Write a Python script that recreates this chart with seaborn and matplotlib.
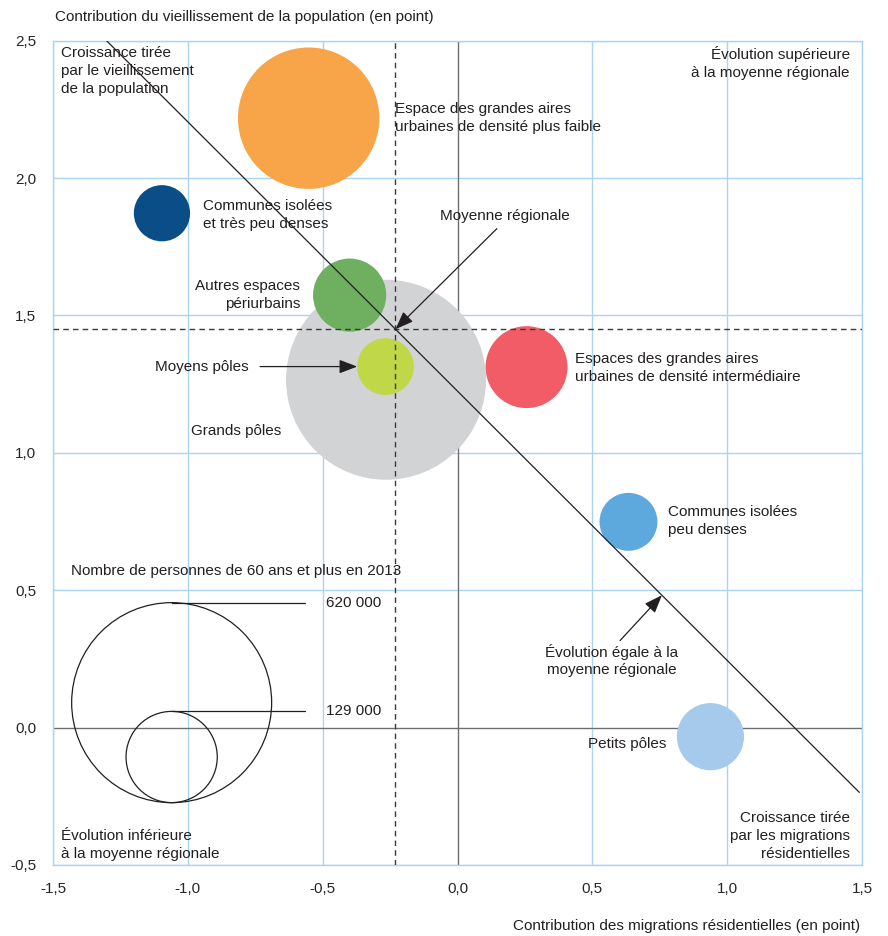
import numpy as np
import pandas as pd
import matplotlib
matplotlib.use("Agg")
import matplotlib.pyplot as plt
import seaborn as sns

# données
categories = [
    "Grands pôles",
    "Espace des grandes aires urbaines de densité plus faible",
    "Espaces des grandes aires urbaines de densité intermédiaire",
    "Autres espaces périurbains",
    "Petits pôles",
    "Communes isolées peu denses",
    "Moyens pôles",
    "Communes isolées et très peu denses",
]
migrations = [-0.265, -0.552, 0.256, -0.400, 0.938, 0.634, -0.267, -1.096]
vieillissement = [1.266, 2.218, 1.312, 1.574, -0.033, 0.749, 1.314, 1.872]
population = [620000, 310000, 104000, 83000, 70000, 52000, 50000, 49000]
couleurs = ["#D2D3D5", "#F8A54A", "#F25C66", "#6EAF60",
            "#A6CAEC", "#5DA9DD", "#C0D748", "#0A4D87"]

moyenne_x = -0.23
moyenne_y = 1.45
legende_pop = [620000, 129000]

x_ticks = [-1.5, -1.0, -0.5, 0.0, 0.5, 1.0, 1.5]
y_ticks = [-0.5, 0.0, 0.5, 1.0, 1.5, 2.0, 2.5]

sns.set_style("white")
plt.rcParams["font.family"] = ["Liberation Sans Narrow", "Liberation Sans", "DejaVu Sans"]
plt.rcParams["text.color"] = "#231F20"

GRID = "#A9D5F0"
FS = 11
LS = 1.35
POP_MAX = 620000
S_MAX = 144.0 ** 2  # diamètre 144 pt pour 620 000

df = pd.DataFrame({"categorie": categories, "x": migrations,
                   "y": vieillissement, "pop": population})

fig = plt.figure(figsize=(8.88, 9.36), dpi=100)
ax = fig.add_axes([53 / 888, 1 - 865 / 936, 809 / 888, 824.3 / 936])

ax.set_xlim(-1.5, 1.5)
ax.set_ylim(-0.5, 2.5)
ax.set_xticks(x_ticks)
ax.set_yticks(y_ticks)
ax.set_xticklabels([f"{v:.1f}".replace(".", ",") for v in x_ticks], fontsize=FS)
ax.set_yticklabels([f"{v:.1f}".replace(".", ",") for v in y_ticks], fontsize=FS)
ax.tick_params(length=0)
ax.tick_params(axis="x", pad=12)
ax.tick_params(axis="y", pad=12)
ax.grid(True, color=GRID, lw=1)
ax.set_axisbelow(True)
for sp in ax.spines.values():
    sp.set_color(GRID)
    sp.set_linewidth(1)

ax.axhline(0, color="#6D6E70", lw=0.9, zorder=1)
ax.axvline(0, color="#6D6E70", lw=0.9, zorder=1)

sns.scatterplot(data=df, x="x", y="y", hue="categorie", size="pop",
                palette=dict(zip(categories, couleurs)),
                sizes=(0, S_MAX), size_norm=(0, POP_MAX),
                linewidth=0, alpha=1, legend=False, ax=ax, zorder=2)
ax.set_xlabel("")
ax.set_ylabel("")

# moyenne régionale
ax.axvline(moyenne_x, color="#3A3A3A", lw=1, ls=(0, (4, 3)), zorder=3)
ax.axhline(moyenne_y, color="#3A3A3A", lw=1, ls=(0, (4, 3)), zorder=3)
pente = -0.98
x_diag = np.array([moyenne_x + (2.5 - moyenne_y) / pente, 1.49])
ax.plot(x_diag, moyenne_y + pente * (x_diag - moyenne_x), color="#231F20", lw=0.9, zorder=3)

arrow = dict(arrowstyle="-|>,head_length=1.1,head_width=0.42", color="#231F20",
             lw=0.9, shrinkA=0, shrinkB=0)
x_eg = 0.758
ax.annotate("", xy=(moyenne_x, moyenne_y), xytext=(0.146, 1.816), arrowprops=arrow, zorder=4)
ax.annotate("", xy=(-0.372, 1.314), xytext=(-0.732, 1.314), arrowprops=arrow, zorder=4)
ax.annotate("", xy=(x_eg, moyenne_y + pente * (x_eg - moyenne_x)), xytext=(0.603, 0.317),
            arrowprops=arrow, zorder=4)

ax.text(0.176, 1.863, "Moyenne régionale", ha="center", va="center", fontsize=FS)
ax.text(-0.773, 1.314, "Moyens pôles", ha="right", va="center", fontsize=FS)
ax.text(0.573, 0.244, "Évolution égale à la\nmoyenne régionale", ha="center", va="center",
        fontsize=FS, linespacing=LS)

# étiquettes des bulles
lab = dict(fontsize=FS, va="center", linespacing=LS)
ax.text(-0.232, 2.218, "Espace des grandes aires\nurbaines de densité plus faible", ha="left", **lab)
ax.text(-0.944, 1.867, "Communes isolées\net très peu denses", ha="left", **lab)
ax.text(-0.584, 1.576, "Autres espaces\npériurbains", ha="right", **lab)
ax.text(-0.821, 1.081, "Grands pôles", ha="center", **lab)
ax.text(0.436, 1.31, "Espaces des grandes aires\nurbaines de densité intermédiaire", ha="left", **lab)
ax.text(0.780, 0.751, "Communes isolées\npeu denses", ha="left", **lab)
ax.text(0.773, -0.058, "Petits pôles", ha="right", **lab)

# coins
ax.text(-1.47, 2.48, "Croissance tirée\npar le vieillissement\nde la population",
        ha="left", va="top", fontsize=FS, linespacing=LS)
ax.text(1.455, 2.48, "Évolution supérieure\nà la moyenne régionale",
        ha="right", va="top", fontsize=FS, linespacing=LS)
ax.text(-1.47, -0.485, "Évolution inférieure\nà la moyenne régionale",
        ha="left", va="bottom", fontsize=FS, linespacing=LS)
ax.text(1.455, -0.485, "Croissance tirée\npar les migrations\nrésidentielles",
        ha="right", va="bottom", fontsize=FS, linespacing=LS)

# légende des tailles
px_y = 274.8  # pixels par unité en y
bas = -0.273
cx = -1.06
ax.text(-1.433, 0.571, "Nombre de personnes de 60 ans et plus en 2013",
        ha="left", va="center", fontsize=FS)
for p in legende_pop:
    r_px = 100 * np.sqrt(p / POP_MAX)
    cy = bas + r_px / px_y
    ax.scatter([cx], [cy], s=S_MAX * p / POP_MAX, facecolors="none",
               edgecolors="#231F20", linewidths=0.9, zorder=3)
    top = bas + 2 * r_px / px_y
    ax.plot([cx, -0.565], [top, top], color="#231F20", lw=0.9, zorder=3)
    ax.text(-0.488, top, f"{p:,}".replace(",", " "), ha="left", va="center", fontsize=FS)

fig.text(55 / 888, 1 - 17 / 936, "Contribution du vieillissement de la population (en point)",
         ha="left", va="center", fontsize=FS)
fig.text(860 / 888, 1 - 926 / 936, "Contribution des migrations résidentielles (en point)",
         ha="right", va="center", fontsize=FS)

fig.savefig("out.png", dpi=100)
plt.close(fig)
